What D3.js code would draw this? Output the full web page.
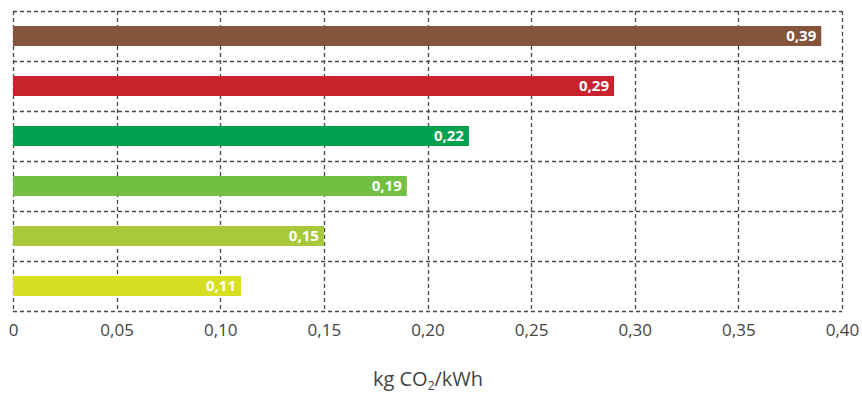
<!DOCTYPE html>
<html>
<head>
<meta charset="utf-8">
<script src="https://cdn.jsdelivr.net/npm/d3@7"></script>
<style>
  body { margin: 0; background: #fff; }
  svg { display: block; font-family: "Open Sans", sans-serif; }
</style>
</head>
<body>
<script>
// Data
var categories = ["r1", "r2", "r3", "r4", "r5", "r6"];
var values = [0.39, 0.29, 0.22, 0.19, 0.15, 0.11];
var colors = ["#84553a", "#c8232c", "#00a24f", "#72bf44", "#a8c93a", "#d7df23"];
var tickValues = [0, 0.05, 0.10, 0.15, 0.20, 0.25, 0.30, 0.35, 0.40];

var data = categories.map(function(c, i) {
  return {cat: c, value: values[i], color: colors[i]};
});

var width = 862, height = 394;
var plotLeft = 13, plotRight = 842, plotTop = 11, plotBottom = 311;

// Skalaer
var xScale = d3.scaleLinear().domain([0, 0.40]).range([plotLeft, plotRight]);
var yScale = d3.scaleBand().domain(categories).range([plotTop, plotBottom]);

var svg = d3.select("body").append("svg").attr("width", width).attr("height", height);

var fmt = function(v) { return d3.format(".2f")(v).replace(".", ","); };

// Gitter
var grid = svg.append("g").attr("stroke", "#4a4a4a").attr("stroke-width", 1.3)
  .attr("stroke-dasharray", "4,3").attr("fill", "none");

grid.selectAll(".vline")
  .data(tickValues)
  .enter()
  .append("line")
  .attr("x1", function(d) { return Math.round(xScale(d)) + 0.5; })
  .attr("x2", function(d) { return Math.round(xScale(d)) + 0.5; })
  .attr("y1", plotTop)
  .attr("y2", plotBottom);

var rowEdges = [plotTop].concat(categories.map(function(c) { return yScale(c) + yScale.bandwidth(); }));
grid.selectAll(".hline")
  .data(rowEdges)
  .enter()
  .append("line")
  .attr("x1", plotLeft)
  .attr("x2", plotRight)
  .attr("y1", function(d) { return Math.round(d) + 0.5; })
  .attr("y2", function(d) { return Math.round(d) + 0.5; });

// Søjler
var barH = 20;
svg.selectAll(".bar")
  .data(data)
  .enter()
  .append("rect")
  .attr("class", "bar")
  .attr("x", xScale(0))
  .attr("y", function(d) { return yScale(d.cat) + yScale.bandwidth() / 2 - barH / 2; })
  .attr("width", function(d) { return xScale(d.value) - xScale(0); })
  .attr("height", barH)
  .attr("fill", function(d) { return d.color; });

svg.selectAll(".val")
  .data(data)
  .enter()
  .append("text")
  .attr("x", function(d) { return xScale(d.value) - 5; })
  .attr("y", function(d) { return yScale(d.cat) + yScale.bandwidth() / 2; })
  .attr("dy", "0.36em")
  .attr("text-anchor", "end")
  .attr("fill", "#fff")
  .attr("font-weight", "bold")
  .attr("font-size", "15px")
  .text(function(d) { return fmt(d.value); });

// Aksen
var xAxis = d3.axisBottom(xScale).tickValues(tickValues).tickSize(0).tickPadding(0)
  .tickFormat(function(d) { return d === 0 ? "0" : fmt(d); });
var ax = svg.append("g").attr("transform", "translate(0," + (plotBottom + 13) + ")").call(xAxis);
ax.select(".domain").remove();
ax.selectAll("text").attr("font-size", "17px").attr("fill", "#444")
  .attr("font-family", "Open Sans, sans-serif");

// Aksetitel
var title = svg.append("text")
  .attr("x", 428)
  .attr("y", 386)
  .attr("text-anchor", "middle")
  .attr("font-size", "20px")
  .attr("fill", "#444");
title.append("tspan").text("kg CO");
title.append("tspan").attr("font-size", "12px").attr("dy", "4").text("2");
title.append("tspan").attr("dy", "-4").text("/kWh");
</script>
</body>
</html>
